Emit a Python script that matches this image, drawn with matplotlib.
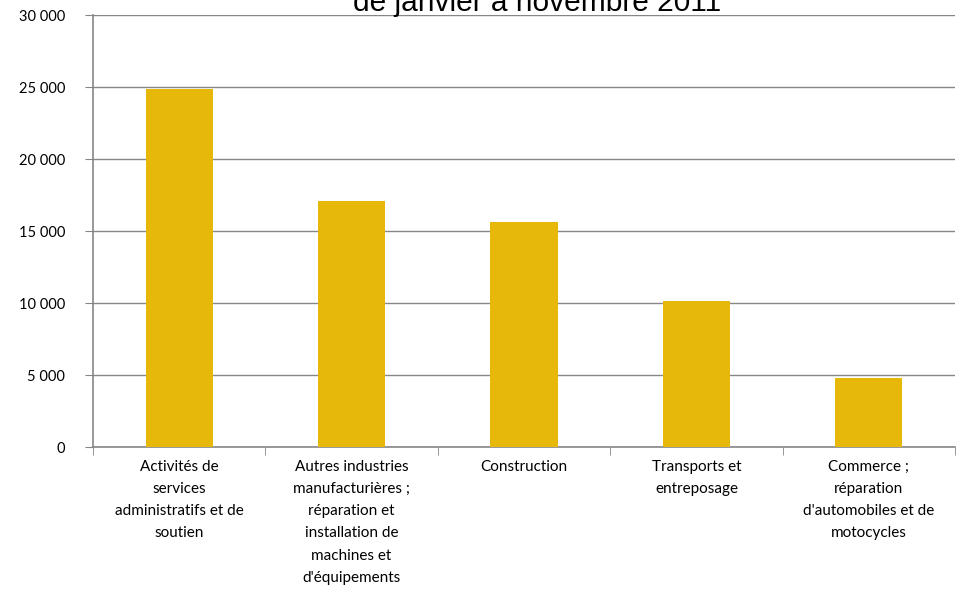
import numpy as np
import matplotlib.pyplot as plt
from matplotlib.ticker import FuncFormatter, FixedLocator

categories = [
    "Activités de\nservices\nadministratifs et de\nsoutien",
    "Autres industries\nmanufacturières ;\nréparation et\ninstallation de\nmachines et\nd'équipements",
    "Construction",
    "Transports et\nentreposage",
    "Commerce ;\nréparation\nd'automobiles et de\nmotocycles",
]
values = [24850, 17100, 15600, 10150, 4800]
title = "de janvier à novembre 2011"

plt.rcParams['font.family'] = ['Lato', 'DejaVu Sans']

fig = plt.figure(figsize=(9.7, 5.93), dpi=100)
ax = fig.add_axes([0.0959, 0.2462, 0.8886, 0.7285])

x = np.arange(len(categories))
ax.bar(x, values, width=0.39, color='#E6B80A', zorder=3)

ax.set_xlim(-0.5, len(categories) - 0.5)
ax.set_ylim(0, 30000)
ax.set_yticks(np.arange(0, 30001, 5000))
ax.yaxis.set_major_formatter(FuncFormatter(lambda v, p: f"{int(v):,}".replace(',', ' ')))
ax.grid(axis='y', color='#868686', linewidth=1, zorder=0)

ax.set_xticks(x)
ax.set_xticklabels(categories, fontsize=11, linespacing=1.75, va='top')
ax.xaxis.set_minor_locator(FixedLocator(np.arange(-0.5, len(categories), 1)))
ax.tick_params(axis='x', which='major', length=0, pad=9)
ax.tick_params(axis='x', which='minor', length=6, color='#868686')
ax.tick_params(axis='y', length=6, color='#868686', labelsize=10.5, pad=14)

for s in ['top', 'right']:
    ax.spines[s].set_visible(False)
for s in ['left', 'bottom']:
    ax.spines[s].set_color('#868686')
    ax.spines[s].set_linewidth(1.2)

fig.text(0.554, 1 - 11 / 593, title, ha='center', va='baseline', fontsize=21.5,
         family=['Liberation Sans', 'DejaVu Sans'])

fig.savefig('out.png', dpi=100)
